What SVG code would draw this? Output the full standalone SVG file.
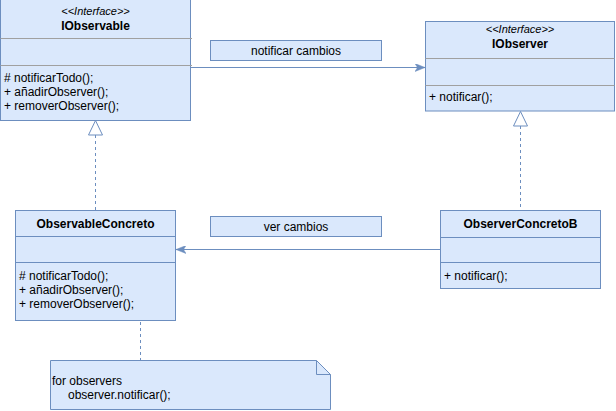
<svg xmlns="http://www.w3.org/2000/svg" width="616" height="411" viewBox="0 0 616 411">
<defs>
<style>
.box{fill:#dae8fc;stroke:#6c8ebf;stroke-width:1}
.divg{stroke:#a0a0a0;stroke-width:1;fill:none}
.divb{stroke:#6c8ebf;stroke-width:1;fill:none}
.t{font-family:"Liberation Sans",Arial,sans-serif;font-size:12px;fill:#000}
.b{font-weight:bold}
.i{font-style:italic;font-size:11px}
.m{text-anchor:middle}
.ln{stroke:#6c8ebf;stroke-width:1;fill:none}
.dash{stroke:#6c8ebf;stroke-width:1;fill:none;stroke-dasharray:3 3}
.tri{fill:#ffffff;stroke:#6c8ebf;stroke-width:1}
</style>
<marker id="arr" viewBox="0 0 10 8" refX="10" refY="4" markerWidth="10" markerHeight="8" markerUnits="userSpaceOnUse" orient="auto">
<path d="M0,0 L10,4 L0,8 L2.5,4 z" fill="#6c8ebf" stroke="#6c8ebf" stroke-width="0.5"/>
</marker>
</defs>
<g id="connectors">
<line class="ln" x1="190.5" y1="67.5" x2="425" y2="67.5" marker-end="url(#arr)"/>
<line class="ln" x1="440" y1="249.5" x2="176" y2="249.5" marker-end="url(#arr)"/>
<line class="dash" x1="95.5" y1="135" x2="95.5" y2="210"/>
<polygon class="tri" points="95.5,120.5 88.5,135 102.5,135"/>
<line class="dash" x1="520.5" y1="126" x2="520.5" y2="210"/>
<polygon class="tri" points="520.5,111.5 513.5,126 527.5,126"/>
<line class="dash" x1="140.5" y1="310" x2="140.5" y2="360"/>
</g>
<g id="IObservable">
<rect class="box" x="0.5" y="-1" width="190" height="121.5"/>
<line class="divg" x1="0.5" y1="38.5" x2="192" y2="38.5"/>
<line class="divg" x1="0.5" y1="65.5" x2="192" y2="65.5"/>
<text class="t i m" x="95.5" y="15">&lt;&lt;Interface&gt;&gt;</text>
<text class="t b m" x="95.5" y="29.5">IObservable</text>
<text class="t" x="4" y="82"># notificarTodo();</text>
<text class="t" x="4" y="96">+ añadirObserver();</text>
<text class="t" x="4" y="110">+ removerObserver();</text>
</g>
<g id="IObserver">
<rect class="box" x="425.5" y="21.5" width="189" height="89.5"/>
<line class="divg" x1="425.5" y1="58.5" x2="614.5" y2="58.5"/>
<line class="divg" x1="425.5" y1="85.5" x2="614.5" y2="85.5"/>
<text class="t i m" x="520" y="33">&lt;&lt;Interface&gt;&gt;</text>
<text class="t b m" x="520" y="48">IObserver</text>
<text class="t" x="429" y="101">+ notificar();</text>
</g>
<g id="label-notificar">
<rect class="box" x="210.5" y="40.5" width="171" height="20"/>
<text class="t m" x="296" y="54.5">notificar cambios</text>
</g>
<g id="ObservableConcreto">
<rect class="box" x="15.5" y="210.5" width="160" height="110"/>
<line class="divb" x1="15.5" y1="236.5" x2="175.5" y2="236.5"/>
<line class="divb" x1="15.5" y1="262.5" x2="175.5" y2="262.5"/>
<text class="t b m" x="95.5" y="228">ObservableConcreto</text>
<text class="t" x="19" y="280"># notificarTodo();</text>
<text class="t" x="19" y="294">+ añadirObserver();</text>
<text class="t" x="19" y="308">+ removerObserver();</text>
</g>
<g id="label-ver">
<rect class="box" x="210.5" y="216.5" width="171" height="20"/>
<text class="t m" x="296" y="230.5">ver cambios</text>
</g>
<g id="ObserverConcretoB">
<rect class="box" x="440.5" y="210.5" width="160" height="78"/>
<line class="divb" x1="440.5" y1="237.5" x2="600.5" y2="237.5"/>
<line class="divb" x1="440.5" y1="262.5" x2="600.5" y2="262.5"/>
<text class="t b m" x="520.5" y="228">ObserverConcretoB</text>
<text class="t" x="444" y="280">+ notificar();</text>
</g>
<g id="note">
<path class="box" d="M50.5,360.5 L316.5,360.5 L330.5,374.5 L330.5,409.5 L50.5,409.5 Z"/>
<path class="ln" d="M316.5,360.5 L316.5,374.5 L330.5,374.5"/>
<text class="t" x="52" y="385">for observers</text>
<text class="t" x="68" y="399">observer.notificar();</text>
</g>
</svg>
